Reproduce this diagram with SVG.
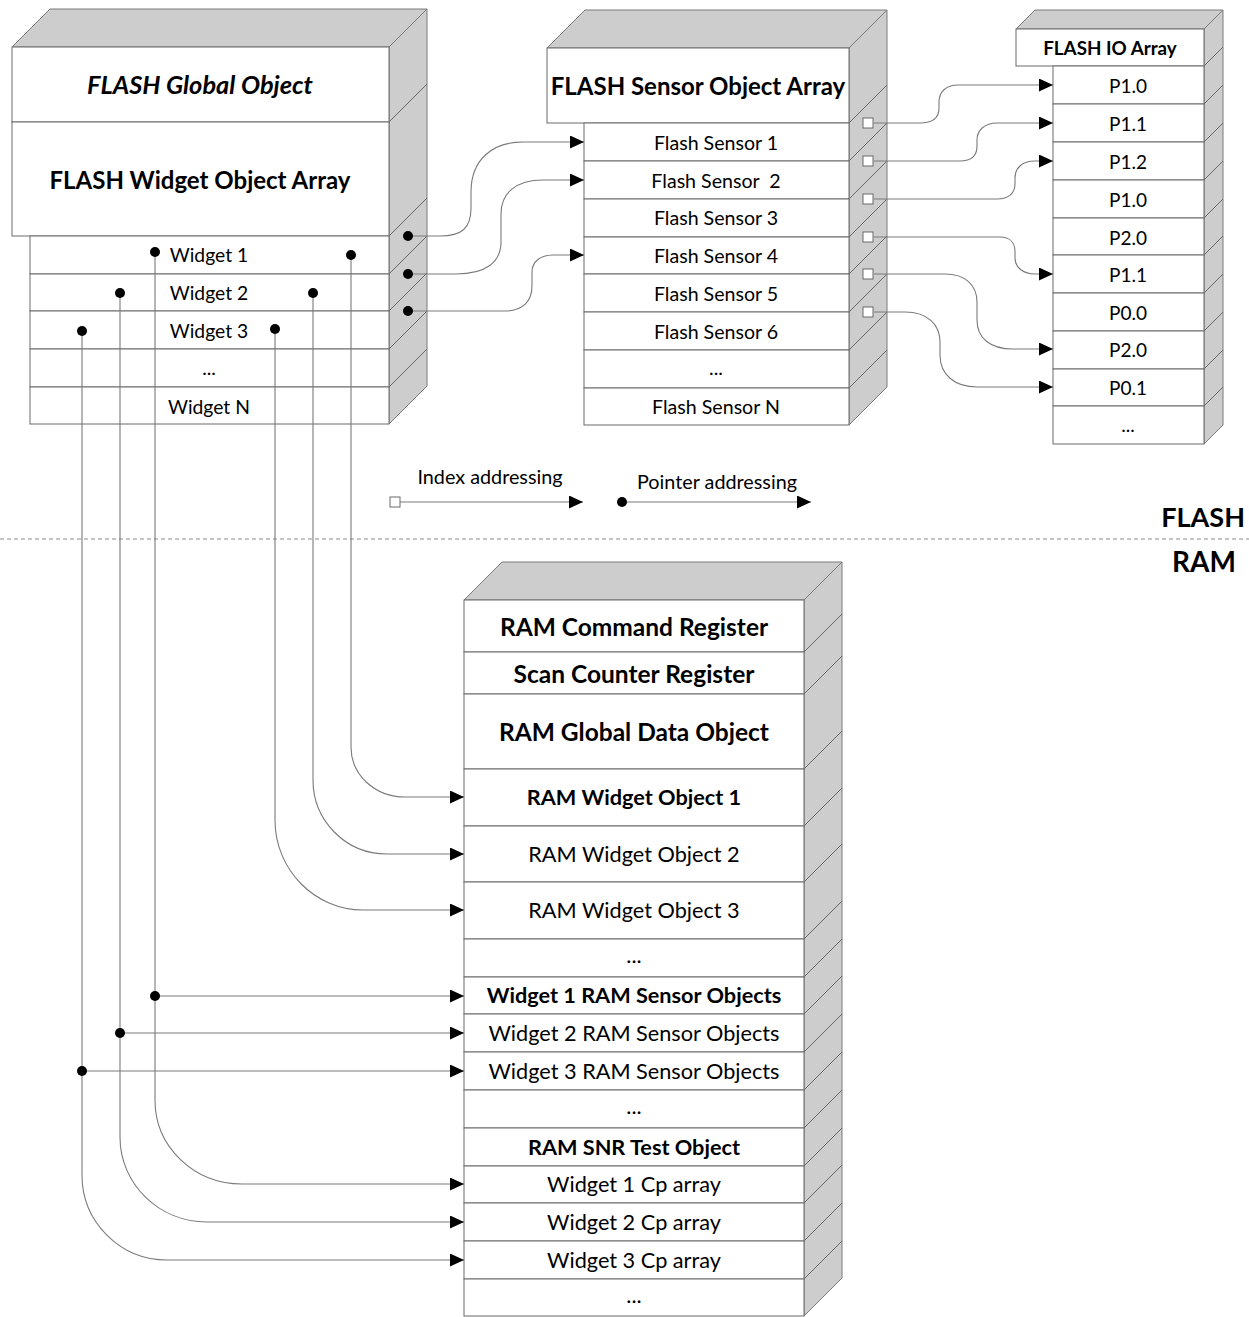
<svg xmlns="http://www.w3.org/2000/svg" width="1249" height="1317" viewBox="0 0 1249 1317">
<style>
text{font-family:Lato,"Open Sans","Liberation Sans",sans-serif;fill:#000;text-anchor:middle;dominant-baseline:central}
.face{fill:#cdcdcd;stroke:#7a7a7a;stroke-width:1}
.cell{fill:#fff;stroke:#6a6a6a;stroke-width:1}
.diag{stroke:#6a6a6a;stroke-width:1;fill:none}
.b{font-weight:bold}
.h{font-size:24px;font-weight:bold}
.hr{font-size:24.5px;font-weight:bold}
.r1{font-size:19.3px}
.rs{font-size:19.6px}
.rp{font-size:19px}
.r2{font-size:21.7px}
.lg{font-size:19.8px}
.conn{fill:none;stroke:#7a7a7a;stroke-width:1.1}
.dot{fill:#000}
.sq{fill:#fff;stroke:#6a6a6a;stroke-width:1}
</style>
<defs>
<marker id="arr" markerUnits="userSpaceOnUse" markerWidth="14" markerHeight="13" refX="14" refY="6.5" orient="auto">
<path d="M0,0 L14,6.5 L0,13 Z" fill="#000"/>
</marker>
</defs>

<g id="flash-widget-array">
<polygon class="face" points="12,47 50,9 427,9 389,47"/>
<polygon class="face" points="389,47 427,9 427,386 389,424"/>
<path class="diag" d="M389,122 L427,84 M389,236 L427,198 M389,274 L427,236 M389,311 L427,273 M389,349 L427,311 M389,387 L427,349"/>
<rect class="cell" x="12" y="47" width="377" height="75"/>
<rect class="cell" x="12" y="122" width="377" height="114"/>
<rect class="cell" x="30" y="236" width="359" height="38"/>
<rect class="cell" x="30" y="274" width="359" height="37"/>
<rect class="cell" x="30" y="311" width="359" height="38"/>
<rect class="cell" x="30" y="349" width="359" height="38"/>
<rect class="cell" x="30" y="387" width="359" height="37"/>
<text x="200" y="84" style="font-size:25.4px;font-weight:bold;font-style:italic">FLASH Global Object</text>
<text x="200" y="179" class="h">FLASH Widget Object Array</text>
<text x="209" y="254" class="r1">Widget 1</text>
<text x="209" y="292" class="r1">Widget 2</text>
<text x="209" y="330" class="r1">Widget 3</text>
<text x="209" y="367" class="r1">...</text>
<text x="209" y="406" class="r1">Widget N</text>
</g>

<g id="flash-sensor-array">
<polygon class="face" points="547,48 585,10 887,10 849,48"/>
<polygon class="face" points="849,48 887,10 887,387 849,425"/>
<path class="diag" d="M849,123 L887,85 M849,161 L887,123 M849,199 L887,161 M849,237 L887,199 M849,274 L887,236 M849,312 L887,274 M849,350 L887,312 M849,388 L887,350"/>
<rect class="cell" x="547" y="48" width="302" height="75"/>
<rect class="cell" x="584" y="123" width="265" height="38"/>
<rect class="cell" x="584" y="161" width="265" height="38"/>
<rect class="cell" x="584" y="199" width="265" height="38"/>
<rect class="cell" x="584" y="237" width="265" height="37"/>
<rect class="cell" x="584" y="274" width="265" height="38"/>
<rect class="cell" x="584" y="312" width="265" height="38"/>
<rect class="cell" x="584" y="350" width="265" height="38"/>
<rect class="cell" x="584" y="388" width="265" height="37"/>
<text x="698" y="85" class="h">FLASH Sensor Object Array</text>
<text x="716" y="142" class="rs">Flash Sensor 1</text>
<text x="716" y="180" class="rs" xml:space="preserve">Flash Sensor  2</text>
<text x="716" y="217" class="rs">Flash Sensor 3</text>
<text x="716" y="255" class="rs">Flash Sensor 4</text>
<text x="716" y="293" class="rs">Flash Sensor 5</text>
<text x="716" y="331" class="rs">Flash Sensor 6</text>
<text x="716" y="367" class="rs">...</text>
<text x="716" y="406" class="rs">Flash Sensor N</text>
</g>

<g id="flash-io-array">
<polygon class="face" points="1016,29 1035,10 1223,10 1204,29"/>
<polygon class="face" points="1204,29 1223,10 1223,425 1204,444"/>
<path class="diag" d="M1204,66 L1223,47 M1204,104 L1223,85 M1204,142 L1223,123 M1204,180 L1223,161 M1204,218 L1223,199 M1204,255 L1223,236 M1204,293 L1223,274 M1204,331 L1223,312 M1204,369 L1223,350 M1204,406 L1223,387"/>
<rect class="cell" x="1016" y="29" width="188" height="37"/>
<rect class="cell" x="1053" y="66" width="151" height="38"/>
<rect class="cell" x="1053" y="104" width="151" height="38"/>
<rect class="cell" x="1053" y="142" width="151" height="38"/>
<rect class="cell" x="1053" y="180" width="151" height="38"/>
<rect class="cell" x="1053" y="218" width="151" height="37"/>
<rect class="cell" x="1053" y="255" width="151" height="38"/>
<rect class="cell" x="1053" y="293" width="151" height="38"/>
<rect class="cell" x="1053" y="331" width="151" height="38"/>
<rect class="cell" x="1053" y="369" width="151" height="37"/>
<rect class="cell" x="1053" y="406" width="151" height="38"/>
<text x="1110" y="47" style="font-size:18.8px;font-weight:bold">FLASH IO Array</text>
<text x="1128" y="85" class="rp">P1.0</text>
<text x="1128" y="123" class="rp">P1.1</text>
<text x="1128" y="161" class="rp">P1.2</text>
<text x="1128" y="199" class="rp">P1.0</text>
<text x="1128" y="237" class="rp">P2.0</text>
<text x="1128" y="274" class="rp">P1.1</text>
<text x="1128" y="312" class="rp">P0.0</text>
<text x="1128" y="349" class="rp">P2.0</text>
<text x="1128" y="387" class="rp">P0.1</text>
<text x="1128" y="424" class="rp">...</text>
</g>

<g id="ram-block">
<polygon class="face" points="464,600 502,562 842,562 804,600"/>
<polygon class="face" points="804,600 842,562 842,1278 804,1316"/>
<path class="diag" d="M804,652 L842,614 M804,694 L842,656 M804,769 L842,731 M804,826 L842,788 M804,882 L842,844 M804,939 L842,901 M804,977 L842,939 M804,1014 L842,976 M804,1052 L842,1014 M804,1090 L842,1052 M804,1128 L842,1090 M804,1166 L842,1128 M804,1203 L842,1165 M804,1241 L842,1203 M804,1279 L842,1241"/>
<rect class="cell" x="464" y="600" width="340" height="52"/>
<rect class="cell" x="464" y="652" width="340" height="42"/>
<rect class="cell" x="464" y="694" width="340" height="75"/>
<rect class="cell" x="464" y="769" width="340" height="57"/>
<rect class="cell" x="464" y="826" width="340" height="56"/>
<rect class="cell" x="464" y="882" width="340" height="57"/>
<rect class="cell" x="464" y="939" width="340" height="38"/>
<rect class="cell" x="464" y="977" width="340" height="37"/>
<rect class="cell" x="464" y="1014" width="340" height="38"/>
<rect class="cell" x="464" y="1052" width="340" height="38"/>
<rect class="cell" x="464" y="1090" width="340" height="38"/>
<rect class="cell" x="464" y="1128" width="340" height="38"/>
<rect class="cell" x="464" y="1166" width="340" height="37"/>
<rect class="cell" x="464" y="1203" width="340" height="38"/>
<rect class="cell" x="464" y="1241" width="340" height="38"/>
<rect class="cell" x="464" y="1279" width="340" height="37"/>
<text x="634" y="626" class="hr">RAM Command Register</text>
<text x="634" y="673" class="hr">Scan Counter Register</text>
<text x="634" y="731" class="hr">RAM Global Data Object</text>
<text x="634" y="797" class="r2 b">RAM Widget Object 1</text>
<text x="634" y="854" class="r2">RAM Widget Object 2</text>
<text x="634" y="910" class="r2">RAM Widget Object 3</text>
<text x="634" y="955" class="r2">...</text>
<text x="634" y="995" class="r2 b">Widget 1 RAM Sensor Objects</text>
<text x="634" y="1033" class="r2">Widget 2 RAM Sensor Objects</text>
<text x="634" y="1071" class="r2">Widget 3 RAM Sensor Objects</text>
<text x="634" y="1106" class="r2">...</text>
<text x="634" y="1147" class="r2 b">RAM SNR Test Object</text>
<text x="634" y="1184" class="r2">Widget 1 Cp array</text>
<text x="634" y="1222" class="r2">Widget 2 Cp array</text>
<text x="634" y="1260" class="r2">Widget 3 Cp array</text>
<text x="634" y="1295" class="r2">...</text>
</g>

<g id="legend">
<text x="490" y="476" class="lg">Index addressing</text>
<text x="717" y="481" class="lg">Pointer addressing</text>
<path class="conn" d="M400,502 H583" marker-end="url(#arr)"/>
<rect class="sq" x="390" y="497" width="10" height="10"/>
<path class="conn" d="M622,502 H811" marker-end="url(#arr)"/>
<circle class="dot" cx="622" cy="502" r="5"/>
</g>

<g id="memory-regions">
<line x1="0" y1="539" x2="1249" y2="539" stroke="#8a8a8a" stroke-width="1" stroke-dasharray="4,3"/>
<text x="1245" y="516" style="font-size:27px;font-weight:bold;text-anchor:end">FLASH</text>
<text x="1236" y="561" style="font-size:28px;font-weight:bold;text-anchor:end">RAM</text>
</g>

<g id="connectors">
<path class="conn" d="M408,236 H440 C462,236 471,228 471,208 V192 C471,160 492,142 523,142 H584" marker-end="url(#arr)"/>
<path class="conn" d="M408,274 H456 C486,274 501,262 501,242 V214 C501,193 516,180 543,180 H584" marker-end="url(#arr)"/>
<path class="conn" d="M408,311 H505 C523,311 532,301 532,286 V272 C532,262 540,255 553,255 H584" marker-end="url(#arr)"/>
<circle class="dot" cx="408" cy="236" r="5"/>
<circle class="dot" cx="408" cy="274" r="5"/>
<circle class="dot" cx="408" cy="311" r="5"/>
<path class="conn" d="M874,123 H920 C933,123 939,117 939,108 V102 C939,92 946,85 958,85 H1053" marker-end="url(#arr)"/>
<path class="conn" d="M874,161 H960 C972,161 977,155 977,146 V140 C977,130 985,123 997,123 H1053" marker-end="url(#arr)"/>
<path class="conn" d="M874,199 H997 C1009,199 1015,193 1015,184 V178 C1015,168 1022,161 1035,161 H1053" marker-end="url(#arr)"/>
<path class="conn" d="M874,237 H1000 C1010,237 1015,243 1015,252 V258 C1015,268 1024,274 1035,274 H1053" marker-end="url(#arr)"/>
<path class="conn" d="M874,274 H945 C965,274 977,285 977,302 V320 C977,338 990,349 1013,349 H1053" marker-end="url(#arr)"/>
<path class="conn" d="M874,312 H905 C928,312 940,325 940,342 V355 C940,375 955,387 977,387 H1053" marker-end="url(#arr)"/>
<rect class="sq" x="863" y="118" width="10" height="10"/>
<rect class="sq" x="863" y="156" width="10" height="10"/>
<rect class="sq" x="863" y="194" width="10" height="10"/>
<rect class="sq" x="863" y="232" width="10" height="10"/>
<rect class="sq" x="863" y="269" width="10" height="10"/>
<rect class="sq" x="863" y="307" width="10" height="10"/>
<path class="conn" d="M351,255 V747 C351,775 375,797 405,797 H464" marker-end="url(#arr)"/>
<path class="conn" d="M313,293 V780 C313,820 345,854 387,854 H464" marker-end="url(#arr)"/>
<path class="conn" d="M275,329 V820 C275,870 315,910 363,910 H464" marker-end="url(#arr)"/>
<path class="conn" d="M155,252 V1100 C155,1147 194,1184 242,1184 H464" marker-end="url(#arr)"/>
<path class="conn" d="M120,293 V1137 C120,1184 159,1222 207,1222 H464" marker-end="url(#arr)"/>
<path class="conn" d="M82,331 V1175 C82,1222 120,1260 167,1260 H464" marker-end="url(#arr)"/>
<path class="conn" d="M155,996 H464" marker-end="url(#arr)"/>
<path class="conn" d="M120,1033 H464" marker-end="url(#arr)"/>
<path class="conn" d="M82,1071 H464" marker-end="url(#arr)"/>
<circle class="dot" cx="155" cy="252" r="5"/>
<circle class="dot" cx="351" cy="255" r="5"/>
<circle class="dot" cx="120" cy="293" r="5"/>
<circle class="dot" cx="313" cy="293" r="5"/>
<circle class="dot" cx="82" cy="331" r="5"/>
<circle class="dot" cx="275" cy="329" r="5"/>
<circle class="dot" cx="155" cy="996" r="5"/>
<circle class="dot" cx="120" cy="1033" r="5"/>
<circle class="dot" cx="82" cy="1071" r="5"/>
</g>
</svg>
